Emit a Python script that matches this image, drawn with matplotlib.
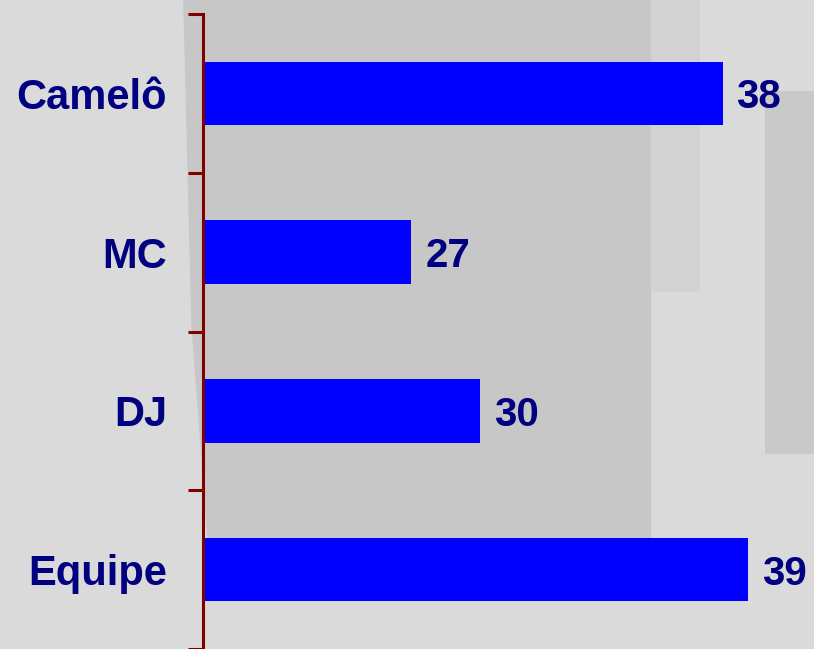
import matplotlib.pyplot as plt
from matplotlib.patches import Polygon

# Dane
kategorie = ["Camelô", "MC", "DJ", "Equipe"]
wartosci = [38.2, 27.3, 29.7, 39.1]
etykiety = ["38", "27", "30", "39"]

plt.rcParams['font.family'] = ['Liberation Sans', 'DejaVu Sans']

fig = plt.figure(figsize=(8.14, 6.49), dpi=100, facecolor='#dadada')

# Tło przypominające zdjęcie (osobne osie pod wykresem)
bg = fig.add_axes([0, 0, 1, 1], zorder=-1)
bg.set_xlim(0, 1)
bg.set_ylim(0, 1)
bg.axis('off')
tlo = [
    ([(0.225, 1.0), (0.80, 1.0), (0.80, 0.08), (0.26, 0.08), (0.235, 0.5)], '#c7c7c7'),
    ([(0.94, 0.86), (1.0, 0.86), (1.0, 0.30), (0.94, 0.30)], '#c9c9c9'),
    ([(0.80, 1.0), (0.86, 1.0), (0.86, 0.55), (0.80, 0.55)], '#d2d2d2'),
]
for punkty, kolor in tlo:
    bg.add_patch(Polygon(punkty, closed=True, facecolor=kolor, edgecolor='none'))

ax = fig.add_axes([203 / 814, 0.0, 1 - 203 / 814, 1 - 14 / 649])
ax.patch.set_alpha(0)

y = list(range(len(kategorie)))
ax.barh(y, wartosci, height=0.40, color='#0000ff')

for yi, w, e in zip(y, wartosci, etykiety):
    ax.annotate(e, (w, yi), xytext=(10, 0), textcoords='offset points',
                va='center_baseline', ha='left', fontsize=29, fontweight='bold', color='#000080')

ax.set_xlim(20, 41.4)
ax.set_ylim(3.5, -0.5)
ax.set_yticks(y)
ax.set_yticklabels(kategorie, fontsize=30, fontweight='bold', color='#000080')
ax.set_yticks([-0.5, 0.5, 1.5, 2.5, 3.5], minor=True)
ax.tick_params(axis='y', which='major', length=0, pad=26)
ax.tick_params(axis='y', which='minor', length=11, width=2.2, color='#800000')
ax.set_xticks([])

for s in ['top', 'right', 'bottom']:
    ax.spines[s].set_visible(False)
ax.spines['left'].set_color('#800000')
ax.spines['left'].set_linewidth(2.2)

fig.savefig('out.png', dpi=100, facecolor=fig.get_facecolor())
